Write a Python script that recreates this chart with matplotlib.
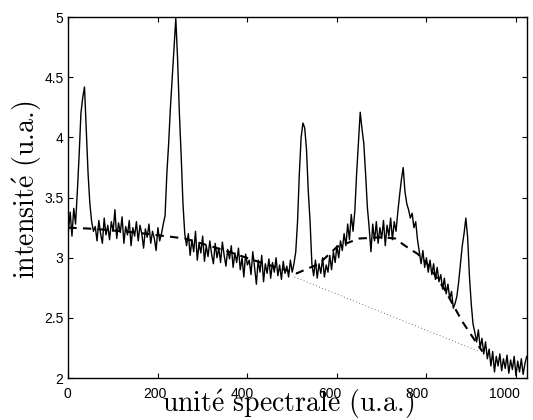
import numpy as np
import matplotlib
matplotlib.use('Agg')
import matplotlib.pyplot as plt
from matplotlib.transforms import blended_transform_factory

plt.rcParams['font.family'] = ['Liberation Sans', 'DejaVu Sans']
plt.rcParams['mathtext.fontset'] = 'cm'

# spectre mesuré, un point toutes les 4 unités spectrales (0 -> 1024)
intensite = [
    3.22, 3.38, 3.18, 3.41, 3.28,                                   # 0-16
    3.55, 3.85, 4.2, 4.33, 4.42, 4.05, 3.7, 3.45, 3.3,              # 20-52 pic 1
    3.22, 3.26, 3.14, 3.31, 3.2, 3.12, 3.33, 3.19, 3.27, 3.15,      # 56-92
    3.3, 3.22, 3.4, 3.16, 3.29, 3.21, 3.34, 3.12, 3.26, 3.19,       # 96-132
    3.31, 3.1, 3.25, 3.18, 3.3, 3.14, 3.27, 3.2, 3.08, 3.24,        # 136-172
    3.17, 3.28, 3.12, 3.22, 3.16, 3.06, 3.25, 3.14, 3.2, 3.28,      # 176-212
    3.35, 3.7, 3.95, 4.25, 4.5, 4.75, 4.99, 4.65, 4.2, 3.85, 3.45, 3.2,  # 216-260 pic 2
    3.1, 3.2, 3.02, 3.15, 3.05, 3.22, 2.98, 3.12, 3.04, 3.18,       # 264-300
    2.97, 3.1, 3.01, 3.14, 3.03, 2.95, 3.12, 3.0, 3.08, 2.96,       # 304-340
    3.13, 3.02, 2.93, 3.07, 2.99, 3.1, 2.92, 3.04, 2.96, 3.08,      # 344-380
    2.9, 3.0, 2.84, 3.03, 2.94, 2.98, 2.86, 3.05, 2.92, 2.78,       # 384-420
    2.98, 2.88, 3.02, 2.8, 2.95, 2.87, 2.99, 2.83, 2.96, 2.88,      # 424-460
    3.0, 2.85, 2.94, 2.82, 2.97, 2.87, 2.93, 2.84, 2.98, 2.88,      # 464-500
    2.95,                                                           # 504
    3.05, 3.3, 3.7, 4.0, 4.12, 4.08, 3.9, 3.55, 3.3, 2.95,          # 508-544 pic 3
    2.85, 2.98, 2.83, 2.95, 2.87, 3.0, 2.84, 2.94, 2.88, 3.02, 2.9, 3.05, 2.96,  # 548-596
    3.1, 3.0, 3.14, 3.06, 3.2, 3.1, 3.28, 3.15, 3.36, 3.22,         # 600-636
    3.39, 3.7, 3.95, 4.21, 4.07, 3.95, 3.7, 3.42, 3.25, 3.05,       # 640-676 pic 4
    3.28, 3.14, 3.3, 3.12, 3.25, 3.16, 3.31, 3.1, 3.27, 3.18, 3.33, 3.15, 3.3, 3.22,  # 680-732
    3.38, 3.52, 3.65, 3.75, 3.55, 3.45, 3.4, 3.33, 3.37, 3.25, 3.3, 3.15,  # 736-780 pic 5
    3.05, 2.95, 3.06, 2.92, 3.0, 2.88, 2.98, 2.86, 2.95, 2.82,      # 784-820
    2.92, 2.8, 2.86, 2.74, 2.83, 2.7, 2.78, 2.66, 2.72, 2.58, 2.62, # 824-864
    2.68, 2.8, 2.95, 3.1, 3.2, 3.33, 3.17, 2.85, 2.62, 2.45,        # 868-904 pic 6
    2.38, 2.3, 2.4, 2.25, 2.33, 2.2, 2.3, 2.16, 2.24, 2.1,          # 908-944
    2.22, 2.05, 2.18, 2.1, 2.2, 2.06, 2.16, 2.08, 2.19, 2.04,       # 948-984
    2.15, 2.07, 2.18, 2.02, 2.14, 2.05, 2.16, 2.03, 2.12, 2.18,     # 988-1024
]
unite = np.arange(0, 1025, 4)

# ligne de base estimée (tirets)
fond_x = [0, 60, 150, 260, 350, 430, 510, 560, 600, 650, 700, 730, 752, 781, 800, 840, 880, 905, 925]
fond_y = [3.25, 3.24, 3.21, 3.16, 3.06, 2.96, 2.87, 2.95, 3.09, 3.16, 3.17, 3.16, 3.10, 3.03, 2.96, 2.74, 2.47, 2.33, 2.22]

# prolongement linéaire (pointillés)
droite_x = [505, 918]
droite_y = [2.84, 2.22]

xticks = [0, 200, 400, 600, 800, 1000]
yticks = [2, 2.5, 3, 3.5, 4, 4.5, 5]
ylabels = ['2', '2.5', '3', '3.5', '4', '4.5', '5']

fig = plt.figure(figsize=(5.33, 4.2), dpi=100)
ax = fig.add_axes([0.1283, 0.1, 0.8599, 0.859])

ax.plot(unite, intensite, color='black', lw=1.0)
ax.plot(fond_x, fond_y, color='black', lw=1.5, ls=(0, (4, 3)))
ax.plot(droite_x, droite_y, color='#444444', lw=0.6, ls=(0, (1, 3)))

ax.set_xlim(0, 1024)
ax.set_ylim(2, 5)
ax.set_xticks(xticks)
ax.set_xticklabels([])
ax.set_yticks(yticks)
ax.set_yticklabels(ylabels)
ax.tick_params(direction='in', top=True, right=True, length=3.5, width=0.8,
               labelsize=10, pad=3.5)
for s in ax.spines.values():
    s.set_linewidth(1.0)

# étiquettes de l'axe x (légèrement décalées comme dans l'export d'origine)
trans = blended_transform_factory(ax.transData, ax.transAxes)
for t in xticks:
    ax.text(t * 0.978 - 3, -0.024, str(t), transform=trans, ha='center', va='top',
            fontsize=10)

fig.text(288 / 533, 1 - 404 / 420, r'unit$\mathrm{\acute{e}}$ spectrale (u.a.)',
         ha='center', va='center', fontsize=20, family='cmr10')
fig.text(27 / 533, 1 - 190 / 420, r'intensit$\mathrm{\acute{e}}$ (u.a.)',
         ha='center', va='center', fontsize=20, family='cmr10', rotation=90)

fig.savefig('out.png', dpi=100)
